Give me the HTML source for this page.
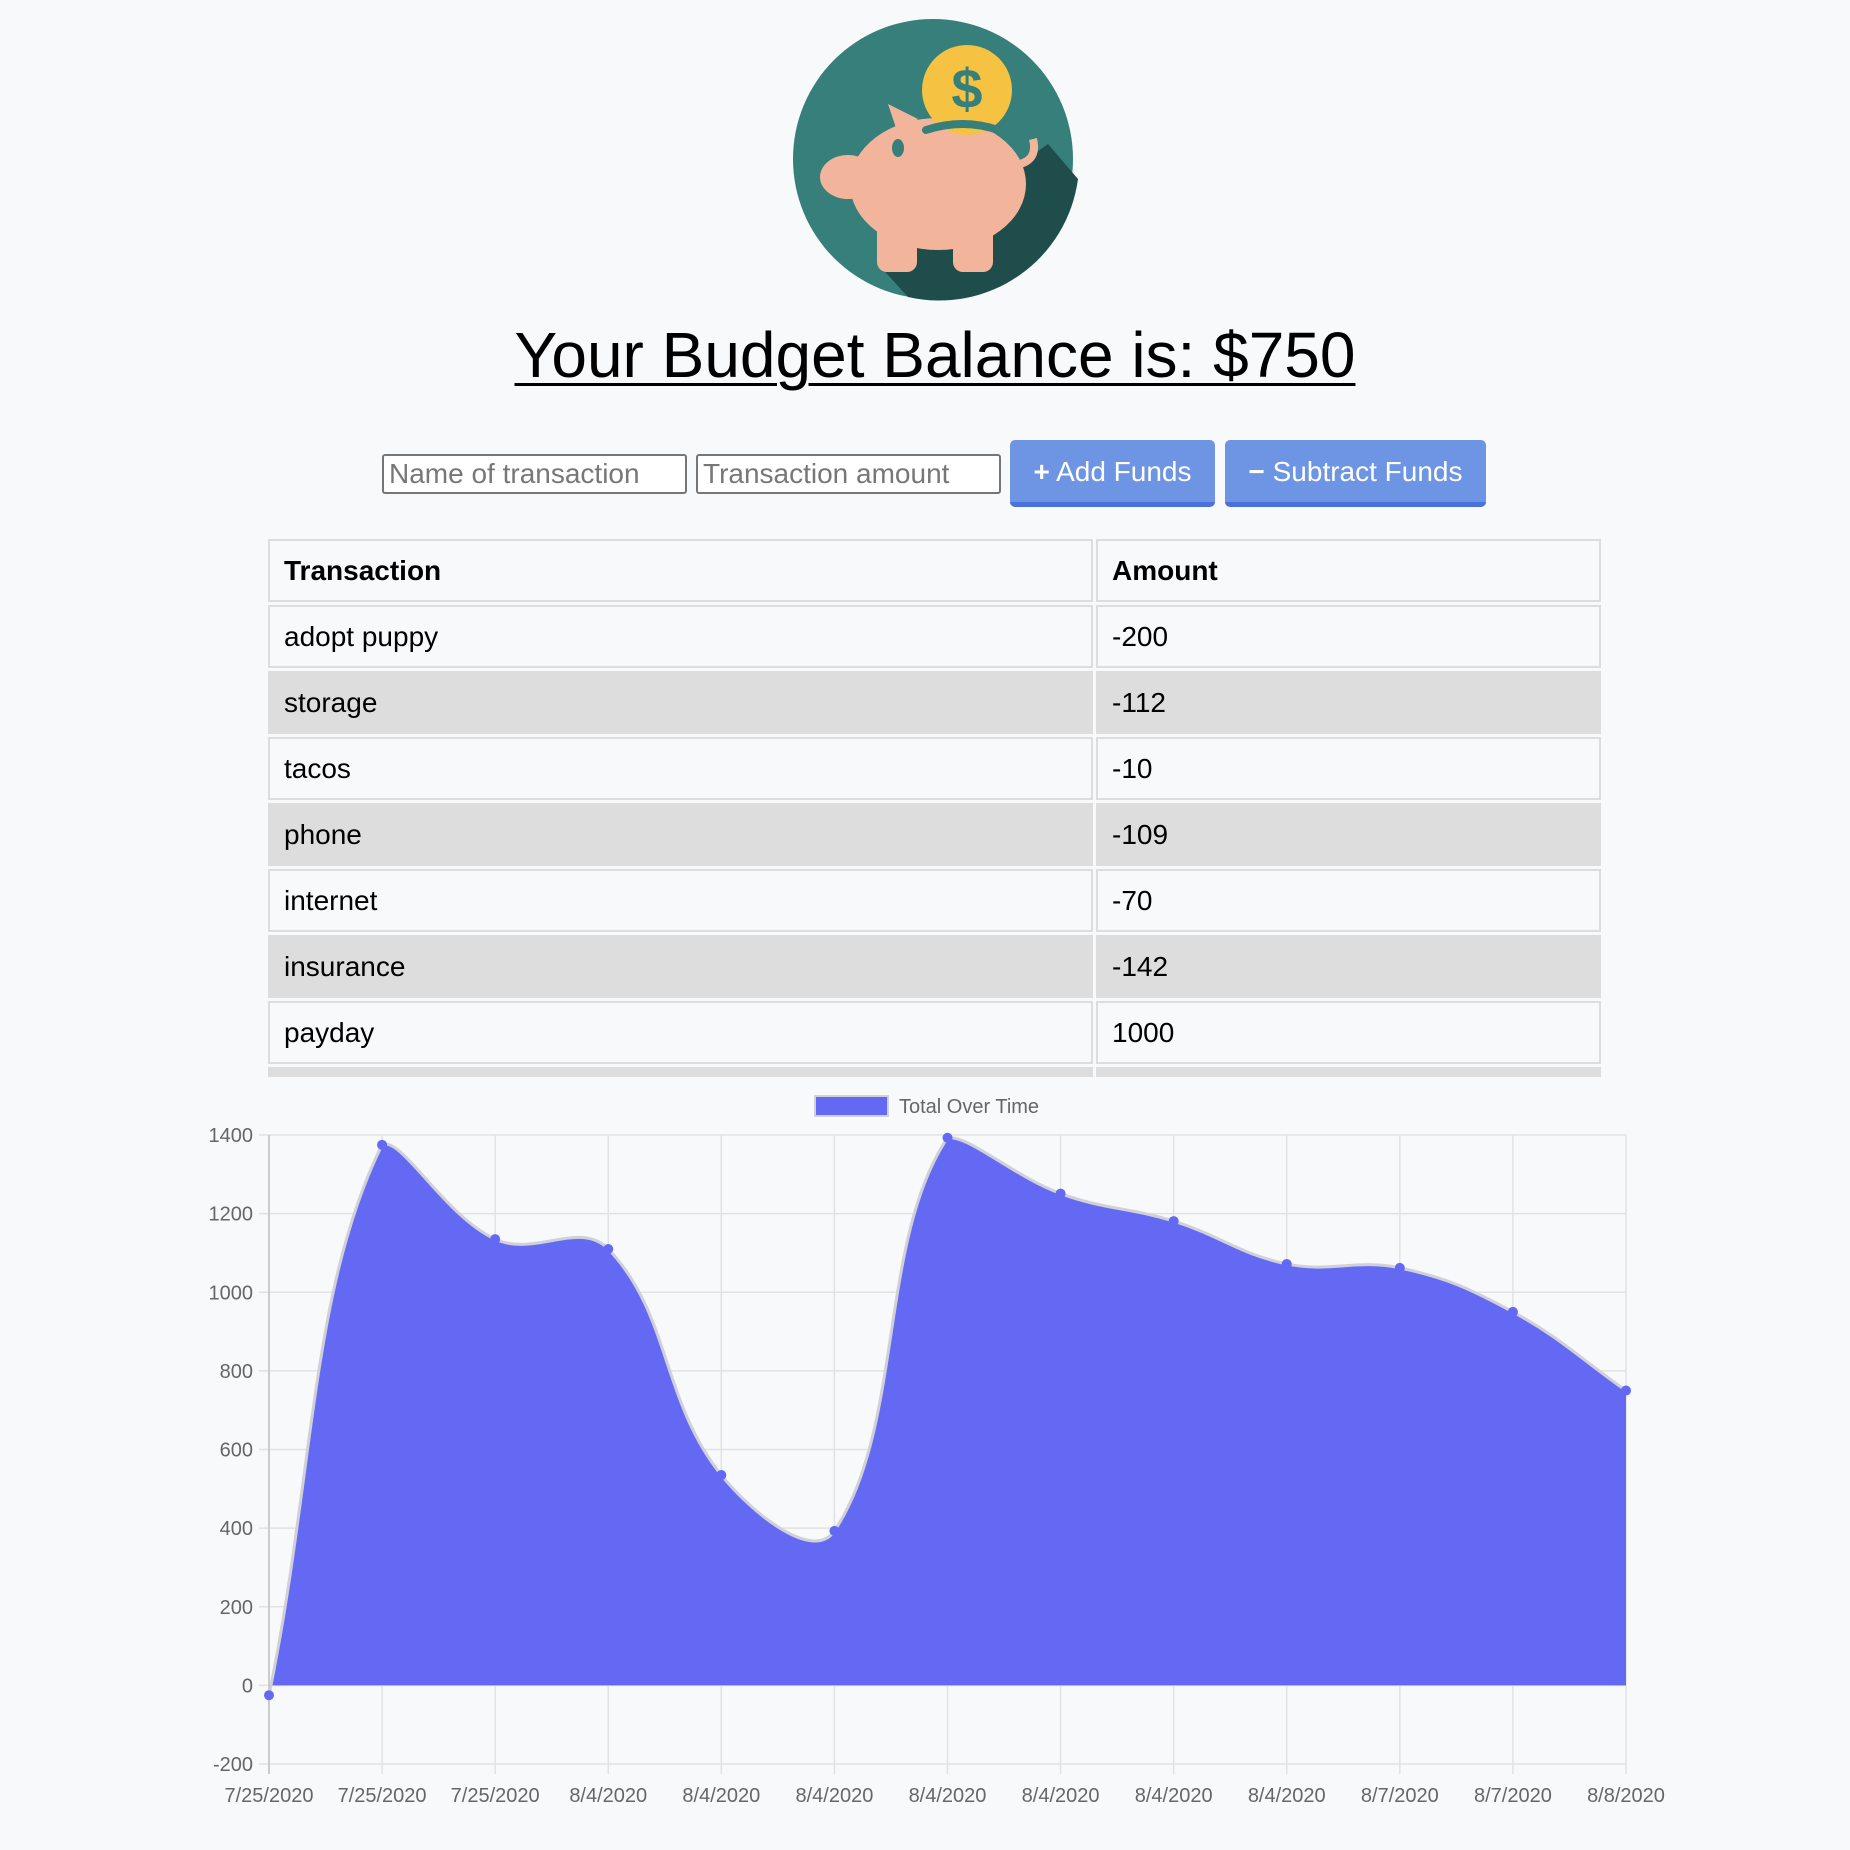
<!DOCTYPE html>
<html><head><meta charset="utf-8">
<style>
html,body{margin:0;padding:0;background:#f8f9fb;width:1850px;height:1850px;overflow:hidden;font-family:"Liberation Sans",Arial,sans-serif;}
.abs{position:absolute;}
#title{left:10px;width:1850px;top:315px;text-align:center;font-size:64px;text-decoration:underline;color:#000;line-height:80px;text-decoration-thickness:3px;text-underline-offset:6px;}
.inp{top:454px;height:40px;width:305px;box-sizing:border-box;border:2px solid #767676;border-radius:3px;background:#fff;font-size:28px;color:#777;padding:0 5px;line-height:36px;font-family:"Liberation Sans",sans-serif;}
.btn{top:440px;height:67px;box-sizing:border-box;background:#6e95e3;border-radius:5px;border-bottom:5px solid #4a72dc;color:#fff;font-size:28px;line-height:64px;text-align:center;}
table{position:absolute;left:268px;top:539px;width:1339px;border-collapse:separate;border-spacing:3px;margin:-3px;}
td,th{border:2px solid #ddd;height:63px;box-sizing:border-box;padding:0 14px;font-size:28px;text-align:left;}
th{font-weight:bold;}
tr.g td{background:#ddd;}
#tablewrap{position:absolute;left:0;top:0;width:1850px;height:1077px;overflow:hidden;}
</style></head>
<body>
<svg class="abs" style="left:788px;top:14px" width="292" height="296">
 <circle cx="145" cy="145" r="140" fill="#367f7b"/>
 <path d="M260 130 L290 165 A140 140 0 0 1 120 283 L90 250 Z" fill="#1f4d4b"/>
 <ellipse cx="150" cy="170" rx="88" ry="66" fill="#f2b59c"/>
 <ellipse cx="60" cy="163" rx="28" ry="22" fill="#f2b59c"/>
 <path d="M110 120 L100 90 L130 105 Z" fill="#f2b59c"/>
 <rect x="89" y="200" width="40" height="58" rx="10" fill="#f2b59c"/>
 <rect x="165" y="200" width="40" height="58" rx="10" fill="#f2b59c"/>
 <path d="M232 150 Q250 145 245 125" stroke="#f2b59c" stroke-width="8" fill="none"/>
 <ellipse cx="110" cy="134" rx="6" ry="9" fill="#367f7b"/>
 <circle cx="179" cy="76" r="45" fill="#f5c242"/>
 <text x="179" y="94" text-anchor="middle" font-size="56" font-weight="bold" fill="#367f7b" font-family="Liberation Sans,sans-serif">$</text>
 <path d="M138 116 Q175 104 210 116" stroke="#367f7b" stroke-width="8" fill="none" stroke-linecap="round"/>
</svg>
<div id="title" class="abs">Your Budget Balance is: $750</div>
<div class="abs inp" style="left:382px">Name of transaction</div>
<div class="abs inp" style="left:696px">Transaction amount</div>
<div class="abs btn" style="left:1010px;width:205px"><b>+</b> Add Funds</div>
<div class="abs btn" style="left:1225px;width:261px"><b>−</b> Subtract Funds</div>
<div id="tablewrap">
<table>
<colgroup><col style="width:825px"><col></colgroup>
<tr><th>Transaction</th><th>Amount</th></tr>
<tr><td>adopt puppy</td><td>-200</td></tr>
<tr class="g"><td>storage</td><td>-112</td></tr>
<tr><td>tacos</td><td>-10</td></tr>
<tr class="g"><td>phone</td><td>-109</td></tr>
<tr><td>internet</td><td>-70</td></tr>
<tr class="g"><td>insurance</td><td>-142</td></tr>
<tr><td>payday</td><td>1000</td></tr>
<tr class="g"><td>&nbsp;</td><td>&nbsp;</td></tr>
</table></div>
<svg id="chart" class="abs" style="left:0;top:1080px" width="1850" height="770"></svg>
<script>
const labels=["7/25/2020","7/25/2020","7/25/2020","8/4/2020","8/4/2020","8/4/2020","8/4/2020","8/4/2020","8/4/2020","8/4/2020","8/7/2020","8/7/2020","8/8/2020"];
const totals=[-25,1375,1135,1110,535,393,1393,1251,1181,1072,1062,950,750];
const yTicks=[-200,0,200,400,600,800,1000,1200,1400];
const svg=document.getElementById('chart');const NS='http://www.w3.org/2000/svg';
const L=269,R=1626,T=55,B=684,ymin=-200,ymax=1400;
const xs=i=>L+(R-L)*i/(labels.length-1);
const ys=v=>B-(v-ymin)/(ymax-ymin)*(B-T);
function mk(t,a,p){const e=document.createElementNS(NS,t);for(const k in a)e.setAttribute(k,a[k]);(p||svg).appendChild(e);return e;}
yTicks.forEach(v=>{const y=ys(v);
 const g=mk('line',{x1:L-10,x2:R,y1:y,y2:y,stroke:'#e2e2e2','stroke-width':1.5});
 
 
 const t=mk('text',{x:L-16,y:y+7,'text-anchor':'end','font-size':20,fill:'#666','font-family':'Liberation Sans,sans-serif'});t.textContent=v;
 
 });
labels.forEach((l,i)=>{const x=xs(i);
 const g=mk('line',{x1:x,x2:x,y1:T,y2:B+10,stroke:i==0?'#ccc':'#e2e2e2','stroke-width':i==0?2:1.5});
 
 
 const t=mk('text',{x:x,y:B+38,'text-anchor':'middle','font-size':20,fill:'#666','font-family':'Liberation Sans,sans-serif'});t.textContent=l;
 
 });
// Chart.js-style spline (tension 0.4) with control points capped to chart area
const pts=totals.map((v,i)=>({x:xs(i),y:ys(v)}));
const cap=(v,a,b)=>Math.max(a,Math.min(b,v));
const cps=pts.map((p,i)=>{const a=pts[Math.max(0,i-1)],c=pts[Math.min(pts.length-1,i+1)];
 const d01=Math.hypot(p.x-a.x,p.y-a.y),d12=Math.hypot(c.x-p.x,c.y-p.y);
 let fa=d01/(d01+d12)||0,fb=d12/(d01+d12)||0;fa*=0.4;fb*=0.4;
 return{px:cap(p.x-fa*(c.x-a.x),L,R),py:cap(p.y-fa*(c.y-a.y),T,B),nx:cap(p.x+fb*(c.x-a.x),L,R),ny:cap(p.y+fb*(c.y-a.y),T,B)};});
let d=`M${pts[0].x},${pts[0].y}`;
for(let i=1;i<pts.length;i++)d+=` C${cps[i-1].nx},${cps[i-1].ny} ${cps[i].px},${cps[i].py} ${pts[i].x},${pts[i].y}`;
const area=mk('path',{d:d+` L${pts[pts.length-1].x},${ys(0)} L${pts[0].x},${ys(0)} Z`,fill:'#6369f3'});


const line=mk('path',{d:d,fill:'none',stroke:'#d0d0d8','stroke-width':3});


pts.forEach(p=>{const c=mk('circle',{cx:p.x,cy:p.y,r:5,fill:'#6369f3'});
 
 });
const lb=mk('rect',{x:815,y:16,width:73,height:20,fill:'#6369f3',stroke:'#d0d0d8','stroke-width':2});


const lt=mk('text',{x:899,y:33,'font-size':20,fill:'#666','font-family':'Liberation Sans,sans-serif'});lt.textContent='Total Over Time';


</script>
</body></html>
